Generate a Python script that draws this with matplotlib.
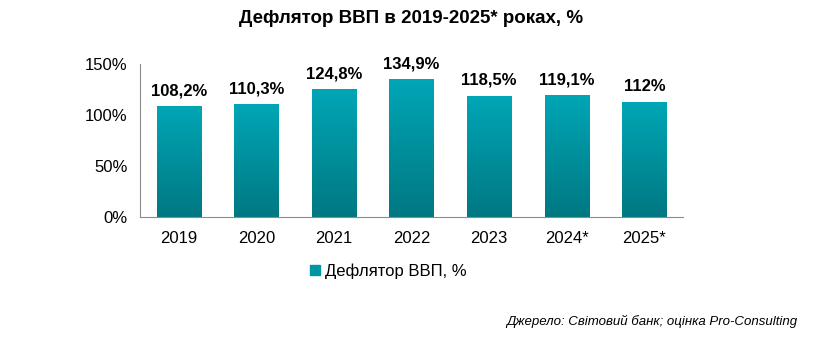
import numpy as np
import matplotlib.pyplot as plt
from matplotlib.colors import LinearSegmentedColormap

plt.rcParams['font.family'] = ['Liberation Sans', 'DejaVu Sans']

years = ['2019', '2020', '2021', '2022', '2023', '2024*', '2025*']
deflator = [108.2, 110.3, 124.8, 134.9, 118.5, 119.1, 112.0]
labels = ['108,2%', '110,3%', '124,8%', '134,9%', '118,5%', '119,1%', '112%']

top_col = '#00A6B6'
bot_col = '#007882'
grad = LinearSegmentedColormap.from_list('teal', [bot_col, top_col])

fig = plt.figure(figsize=(8.18, 3.37), dpi=100)
ax = fig.add_axes([0.1711, 0.356, 0.664, 0.454])

x = np.arange(len(years))
bars = ax.bar(x, deflator, width=0.57, color='none', edgecolor='none', zorder=2)

# gradient fill for each bar
g = np.linspace(0, 1, 256).reshape(-1, 1)
for b in bars:
    x0, y0 = b.get_x(), b.get_y()
    w, h = b.get_width(), b.get_height()
    ax.imshow(g, cmap=grad, origin='lower', aspect='auto',
              extent=[x0, x0 + w, y0, y0 + h], zorder=2)

for b, lab in zip(bars, labels):
    ax.annotate(lab, (b.get_x() + b.get_width() / 2, b.get_height()),
                xytext=(0, 6), textcoords='offset points',
                ha='center', va='bottom', fontsize=12, fontweight='bold')

ax.set_xlim(-0.5, len(years) - 0.5)
ax.set_ylim(0, 150)
ax.set_yticks([0, 50, 100, 150])
ax.set_yticklabels(['0%', '50%', '100%', '150%'], fontsize=12)
ax.set_xticks(x)
ax.set_xticklabels(years, fontsize=12)
ax.tick_params(axis='x', length=0, pad=10)
ax.tick_params(axis='y', length=0, pad=9)
for s in ['top', 'right']:
    ax.spines[s].set_visible(False)
for s in ['left', 'bottom']:
    ax.spines[s].set_color('#8C8C8C')

fig.text(0.502, 0.945, 'Дефлятор ВВП в 2019-2025* роках, %', ha='center',
         va='center', fontsize=13.5, fontweight='bold')

handle = plt.Rectangle((0, 0), 1, 1, color='#0096A4')
fig.legend([handle], ['Дефлятор ВВП, %'], loc='center', bbox_to_anchor=(0.475, 0.195),
           frameon=False, fontsize=12, handlelength=0.6, handleheight=0.6,
           handletextpad=0.3)

fig.text(0.975, 0.047, 'Джерело: Світовий банк; оцінка Pro-Consulting',
         ha='right', va='center', fontsize=9.5, style='italic')

fig.savefig('out.png', dpi=100)
